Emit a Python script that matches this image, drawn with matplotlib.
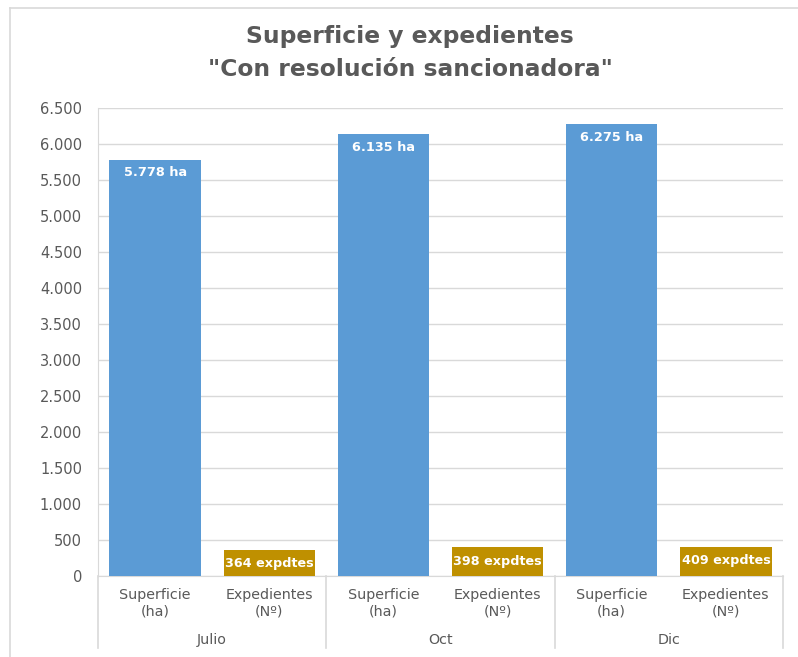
import matplotlib.pyplot as plt
from matplotlib.lines import Line2D
from matplotlib.ticker import FuncFormatter
import matplotlib.transforms as mtransforms

# Data
months = ['Julio', 'Oct', 'Dic']
superficie = [5778, 6135, 6275]
expedientes = [364, 398, 409]
inner_labels = ['Superficie\n(ha)', 'Expedientes\n(Nº)']

BLUE = '#5B9BD5'
GOLD = '#BF9000'
GRAY = '#595959'
GRID = '#D9D9D9'

W, H = 798, 657
fig = plt.figure(figsize=(W / 100, H / 100), dpi=100)
ax = fig.add_axes([98 / W, 1 - 576 / H, (783 - 98) / W, (576 - 108) / H])

x_sup = [2 * i for i in range(len(months))]
x_exp = [2 * i + 1 for i in range(len(months))]

bars_s = ax.bar(x_sup, superficie, width=0.8, color=BLUE, zorder=3)
bars_e = ax.bar(x_exp, expedientes, width=0.8, color=GOLD, zorder=3)

for b, v in zip(bars_s, superficie):
    ax.annotate(f'{v:,}'.replace(',', '.') + ' ha',
                (b.get_x() + b.get_width() / 2, v), xytext=(0, -13),
                textcoords='offset pixels', ha='center', va='center',
                color='white', fontsize=9.3, fontweight='bold', zorder=4)
for b, v in zip(bars_e, expedientes):
    ax.annotate(f'{v} expdtes',
                (b.get_x() + b.get_width() / 2, v), xytext=(0, -14),
                textcoords='offset pixels', ha='center', va='center',
                color='white', fontsize=9.2, fontweight='bold', zorder=4)

ax.set_xlim(-0.5, 5.5)
ax.set_ylim(0, 6500)
ax.set_yticks(range(0, 6501, 500))
ax.yaxis.set_major_formatter(FuncFormatter(lambda v, p: f'{int(v):,}'.replace(',', '.')))
ax.tick_params(axis='y', length=0, labelsize=10.5, labelcolor=GRAY, pad=11.5)
ax.grid(axis='y', color=GRID, linewidth=1, zorder=0)

ax.set_xticks(x_sup + x_exp)
ax.set_xticklabels([inner_labels[0]] * 3 + [inner_labels[1]] * 3)
ax.tick_params(axis='x', length=0, labelsize=10.3, labelcolor=GRAY, pad=9)

for s in ['top', 'right']:
    ax.spines[s].set_visible(False)
ax.spines['left'].set_color(GRID)
ax.spines['bottom'].set_color(GRID)

# outer category labels and separators
trans = mtransforms.blended_transform_factory(ax.transData, ax.transAxes)
px = 1 / (576 - 108)
for i, m in enumerate(months):
    ax.text(2 * i + 0.5, -64 * px, m, transform=trans, ha='center', va='center',
            fontsize=10.3, color=GRAY)
for xs in [-0.5, 1.5, 3.5, 5.5]:
    ax.add_line(Line2D([xs, xs], [0, -72 * px], transform=trans, color=GRID,
                       linewidth=1.2, clip_on=False))

fig.text(410 / W, 1 - 37 / H, 'Superficie y expedientes', ha='center', va='center',
         fontsize=16.8, fontweight='bold', color=GRAY)
fig.text(410 / W, 1 - 69 / H, '"Con resolución sancionadora"', ha='center', va='center',
         fontsize=16.8, fontweight='bold', color=GRAY)

# chart frame
fig.add_artist(Line2D([9.5 / W, 9.5 / W], [0, 1 - 7.5 / H], transform=fig.transFigure,
                      color=GRID, linewidth=1.2))
fig.add_artist(Line2D([9.5 / W, 1.01], [1 - 7.5 / H, 1 - 7.5 / H], transform=fig.transFigure,
                      color=GRID, linewidth=1.2))

fig.savefig('out.png', dpi=100)
